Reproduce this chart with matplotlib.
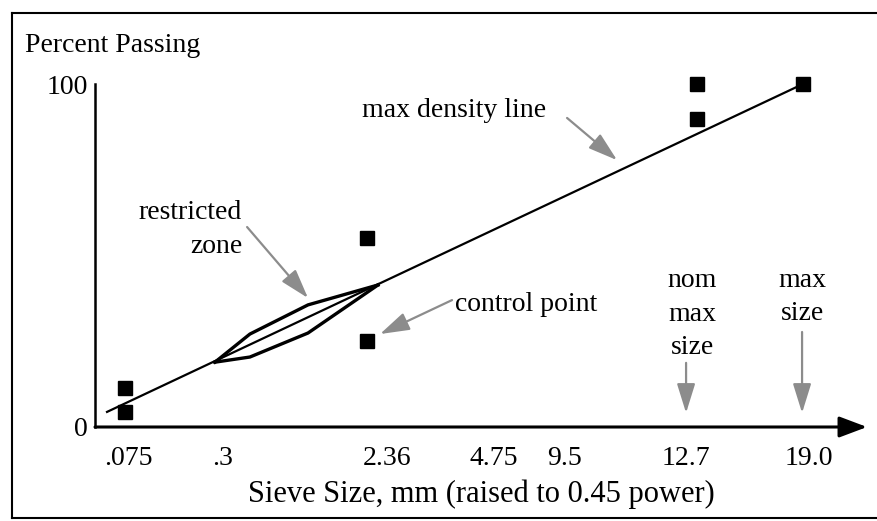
import matplotlib
matplotlib.use("Agg")
import matplotlib.pyplot as plt
from matplotlib.lines import Line2D

plt.rcParams['font.family'] = ['Liberation Serif', 'DejaVu Serif']

# ---- data (x in "sieve size raised to 0.45 power" chart units, y in percent) ----
sieve_labels = ['.075', '.3', '2.36', '4.75', '9.5', '12.7', '19.0']
sieve_pos = [0.176, 0.676, 1.553, 2.122, 2.50, 3.144, 3.798]

control_x = [0.160, 0.160, 1.447, 1.447, 3.200, 3.200, 3.766]
control_y = [11.4, 4.4, 55.0, 25.0, 100.0, 89.8, 100.0]

maxdens_x = [0.064, 3.766]
maxdens_y = [4.4, 100.0]

zone_x = [0.638, 0.824, 1.133, 1.505]
zone_upper = [18.9, 27.1, 35.6, 41.4]
zone_lower = [18.9, 20.4, 27.4, 41.4]

# ---- figure ----
W, H = 878, 521
fig = plt.figure(figsize=(W / 100, H / 100), dpi=100)
fig.patch.set_facecolor('white')

# outer frame
frame_kw = dict(color='black', lw=1.5, transform=fig.transFigure)
fig.add_artist(Line2D([12 / W, 12 / W], [1 - 13 / H, 1 - 518 / H], **frame_kw))
fig.add_artist(Line2D([12 / W, 1.0], [1 - 13 / H, 1 - 13 / H], **frame_kw))
fig.add_artist(Line2D([12 / W, 1.0], [1 - 518 / H, 1 - 518 / H], **frame_kw))

ax = fig.add_axes([95 / W, 1 - 427 / H, (867 - 95) / W, 343 / H])
ax.set_xlim(0, (867 - 95) / 188)
ax.set_ylim(0, 100)
ax.set_facecolor('none')
for s in ['top', 'right', 'bottom']:
    ax.spines[s].set_visible(False)
ax.spines['left'].set_linewidth(1.8)

# x axis with arrow head
ax.annotate('', xy=(1, 0), xytext=(0, 0), xycoords='axes fraction',
            textcoords='axes fraction',
            arrowprops=dict(arrowstyle='-|>,head_length=0.85,head_width=0.32',
                            mutation_scale=20, lw=2.2, color='black',
                            shrinkA=0, shrinkB=0))

ax.set_yticks([0, 100], ['0', '100'])
ax.tick_params(axis='y', length=0, pad=5, labelsize=20)
ax.set_xticks(sieve_pos, sieve_labels)
ax.tick_params(axis='x', length=0, pad=14, labelsize=20)
ax.set_xlabel('Sieve Size, mm (raised to 0.45 power)', fontsize=22, labelpad=5.5)

fig.text(25 / W, 1 - 45 / H, 'Percent Passing', fontsize=20, ha='left', va='center')

# max density line
ax.plot(maxdens_x, maxdens_y, color='black', lw=1.6, clip_on=False)
# restricted zone
ax.plot(zone_x, zone_upper, color='black', lw=2.4, solid_joinstyle='round')
ax.plot(zone_x, zone_lower, color='black', lw=2.4, solid_joinstyle='round')
# control points
ax.plot(control_x, control_y, 's', ms=10.5, color='black', ls='none', clip_on=False)

# annotations
arrow_kw = dict(arrowstyle='-|>,head_length=0.9,head_width=0.28', mutation_scale=20,
                lw=1.6, color='0.55', shrinkA=0, shrinkB=0)

ax.text(1.42, 92.4, 'max density line', fontsize=20, ha='left', va='center')
ax.annotate('', xy=(2.777, 77.8), xytext=(2.511, 90.1), arrowprops=arrow_kw)

ax.text(0.782, 57.6, 'restricted\nzone', fontsize=20, ha='right', va='center',
        multialignment='right', linespacing=1.46)
ax.annotate('', xy=(1.133, 37.6), xytext=(0.809, 58.3), arrowprops=arrow_kw)

ax.text(1.915, 35.6, 'control point', fontsize=20, ha='left', va='center')
ax.annotate('', xy=(1.516, 27.1), xytext=(1.899, 37.0), arrowprops=arrow_kw)

ax.text(3.176, 32.9, 'nom\nmax\nsize', fontsize=20, ha='center', va='center',
        linespacing=1.43)
ax.annotate('', xy=(3.144, 4.1), xytext=(3.144, 18.7), arrowprops=arrow_kw)

ax.text(3.761, 37.8, 'max\nsize', fontsize=20, ha='center', va='center',
        linespacing=1.43)
ax.annotate('', xy=(3.761, 4.1), xytext=(3.761, 27.7), arrowprops=arrow_kw)

fig.savefig('out.png', dpi=100)
